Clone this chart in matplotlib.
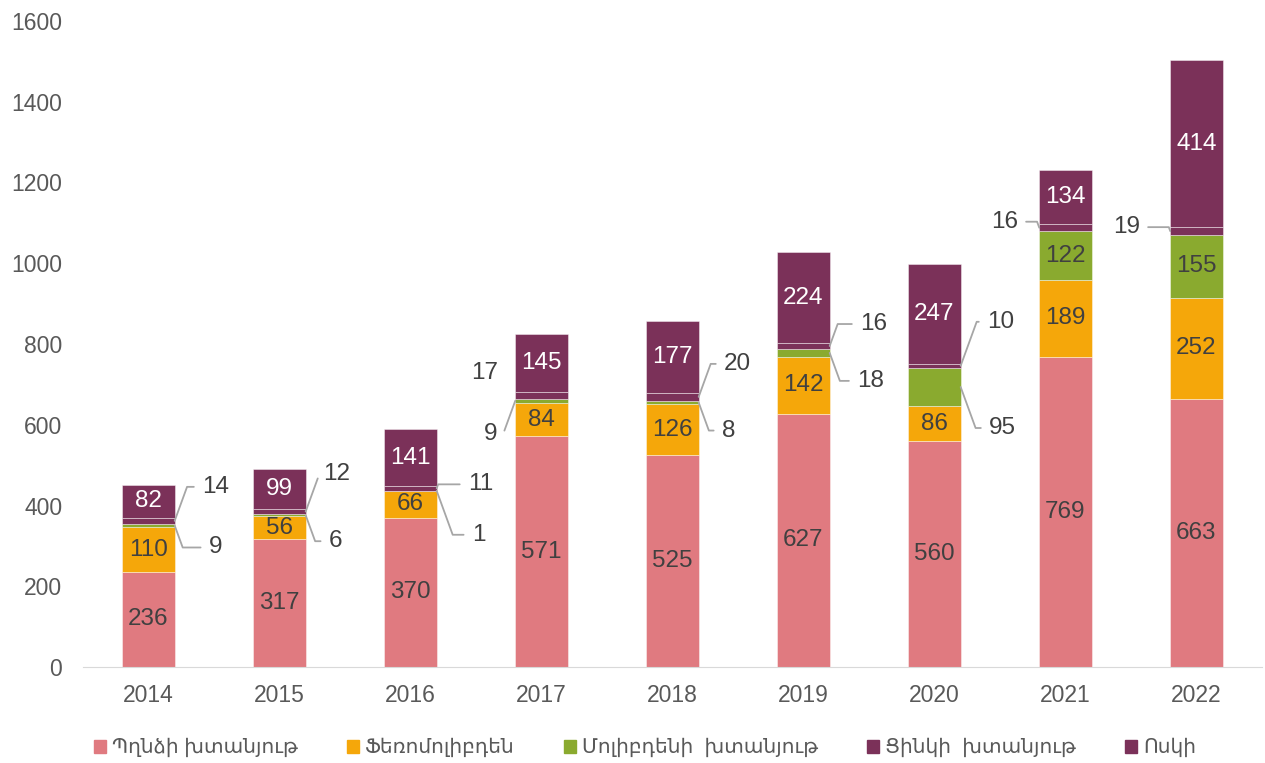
import matplotlib
matplotlib.use("Agg")
import matplotlib.pyplot as plt
import numpy as np

plt.rcParams["font.family"] = ["Liberation Sans", "DejaVu Sans"]

years = ["2014", "2015", "2016", "2017", "2018", "2019", "2020", "2021", "2022"]
series_names = ["Պղնձի խտանյութ", "Ֆեռոմոլիբդեն", "Մոլիբդենի  խտանյութ",
                "Ցինկի  խտանյութ", "Ոսկի"]
copper = [236, 317, 370, 571, 525, 627, 560, 769, 663]
ferromoly = [110, 56, 66, 84, 126, 142, 86, 189, 252]
moly = [9, 6, 1, 9, 8, 18, 95, 122, 155]
zinc = [14, 12, 11, 17, 20, 16, 10, 16, 19]
gold = [82, 99, 141, 145, 177, 224, 247, 134, 414]

colors = ["#E07A80", "#F5A70A", "#8AAA2F", "#7B3159", "#7B3159"]
label_colors = ["#404040", "#404040", "#404040", "white", "white"]

# outside labels: (series index, year index, side, dx px, dy px, leader)
outside = [
    (3, 0, 1, 41, 34, True), (2, 0, 1, 41, -22, True),
    (3, 1, 1, 31, 38, True), (2, 1, 1, 30, -26, True),
    (3, 2, 1, 44, 4, True), (2, 2, 1, 42, -44, True),
    (3, 3, -1, -31, 22, False), (2, 3, -1, -25, -33, True),
    (3, 4, 1, 39, 33, True), (2, 4, 1, 30, -28, True),
    (3, 5, 1, 44, 22, True), (2, 5, 1, 41, -28, True),
    (3, 6, 1, 40, 44, True), (2, 6, 1, 42, -41, True),
    (3, 7, -1, -35, 6, True),
    (3, 8, -1, -44, 4, True),
]

data = [copper, ferromoly, moly, zinc, gold]
x = np.arange(len(years))
width = 0.4

fig = plt.figure(figsize=(12.65, 7.63), dpi=100)
ax = fig.add_axes([0.0656, 0.1258, 0.932, 0.8467])

bottoms = np.zeros(len(years))
bars = []
for i, vals in enumerate(data):
    ax.bar(x, vals, width, bottom=bottoms, color=colors[i],
           edgecolor=(1, 1, 1, 0.6), linewidth=0.5, label=series_names[i], zorder=2)
    bars.append((bottoms.copy(), np.array(vals)))
    bottoms += np.array(vals)

# inside labels
for i, vals in enumerate(data):
    bot, v = bars[i]
    for j in range(len(years)):
        if i in (2, 3) and not (i == 2 and v[j] > 100):
            continue
        ax.text(x[j], bot[j] + v[j] / 2, str(v[j]), ha="center", va="center",
                fontsize=17.5, color=label_colors[i], zorder=3)

# outside labels with leader lines
for si, yi, side, dx, dy, leader in outside:
    bot, v = bars[si]
    xe = x[yi] + side * width / 2
    ym = bot[yi] + v[yi] / 2
    ang = 90 - 20 * np.sign(dx) * np.sign(dy)
    props = None
    if leader:
        props = dict(arrowstyle="-", color="#A6A6A6", lw=1.3, shrinkA=4, shrinkB=0,
                     connectionstyle=f"angle,angleA=0,angleB={ang},rad=0")
    ax.annotate(str(v[yi]), xy=(xe, ym), xytext=(dx, dy), textcoords="offset pixels",
                ha="center", va="center", fontsize=17.5, color="#404040",
                arrowprops=props, zorder=3)

ax.set_xlim(-0.5, len(years) - 0.5)
ax.set_ylim(0, 1600)
ax.set_yticks(np.arange(0, 1601, 200))
ax.set_xticks(x)
ax.set_xticklabels(years)
ax.tick_params(axis="both", length=0, labelsize=16.5, colors="#595959")
ax.tick_params(axis="x", pad=12)
ax.tick_params(axis="y", pad=15)
for s in ["top", "right", "left"]:
    ax.spines[s].set_visible(False)
ax.spines["bottom"].set_color("#D9D9D9")

handles = [plt.Rectangle((0, 0), 1, 1, color=c) for c in colors]
fig.legend(handles, series_names, loc="center", bbox_to_anchor=(0.51, 0.02),
           ncol=5, frameon=False, fontsize=14.5, handlelength=0.6, handleheight=0.6,
           handletextpad=0.3, columnspacing=2.43, labelcolor="#595959")

fig.savefig("out.png", dpi=100)
